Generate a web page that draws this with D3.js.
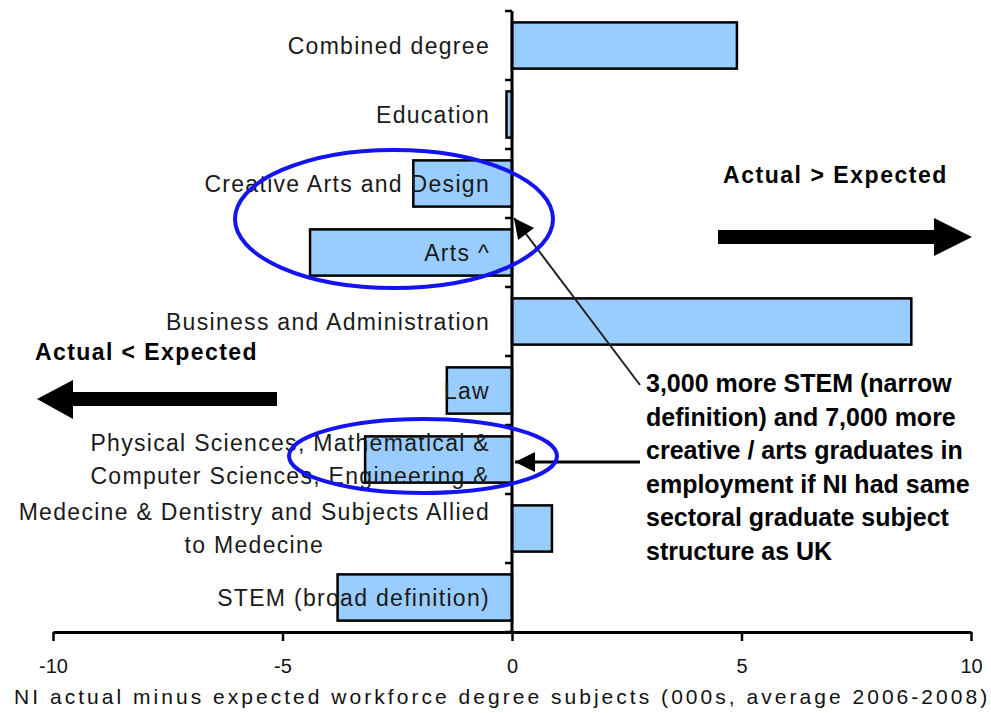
<!DOCTYPE html>
<html>
<head>
<meta charset="utf-8">
<script src="https://cdn.jsdelivr.net/npm/d3@7"></script>
<style>
  body { margin: 0; background: #fff; }
  svg { display: block; }
</style>
</head>
<body>
<div id="chart"></div>
<script>
// chart values (000s)
var categories = [
  "Combined degree",
  "Education",
  "Creative Arts and Design",
  "Arts ^",
  "Business and Administration",
  "Law",
  "Physical Sciences, Mathematical &\nComputer Sciences, Engineering &",
  "Medecine & Dentistry and Subjects Allied\nto Medecine",
  "STEM (broad definition)"
];
var values = [4.9, -0.12, -2.15, -4.4, 8.7, -1.42, -3.2, 0.87, -3.8];
var xTicks = [-10, -5, 0, 5, 10];
var xTitle = "NI actual minus expected workforce degree subjects (000s, average 2006-2008)";
var noteLines = [
  "3,000 more STEM (narrow",
  "definition) and 7,000 more",
  "creative / arts graduates in",
  "employment if NI had same",
  "sectoral graduate subject",
  "structure as UK"
];
var rightLabel = "Actual > Expected";
var leftLabel = "Actual < Expected";

var svgWidth = 991, svgHeight = 713;

var svg = d3.select("#chart").append("svg")
  .attr("width", svgWidth)
  .attr("height", svgHeight);

var xScale = d3.scaleLinear().domain([-10, 10]).range([53, 971]);
var yScale = d3.scaleBand().domain(categories).range([11, 632])
  .paddingInner(0.33).paddingOuter(0.165);

// stretch a text to a given width with letter spacing
function fit(sel, w) {
  sel.each(function() {
    var n = this.getNumberOfChars();
    var cur = this.getComputedTextLength();
    d3.select(this).attr("letter-spacing", ((w - cur) / n).toFixed(2));
  });
}

// bars
svg.append("g").selectAll("rect")
  .data(values)
  .enter()
  .append("rect")
  .attr("x", d => xScale(Math.min(0, d)))
  .attr("y", (d, i) => yScale(categories[i]))
  .attr("width", d => Math.abs(xScale(d) - xScale(0)))
  .attr("height", yScale.bandwidth())
  .attr("fill", "#99ccff")
  .attr("stroke", "#000")
  .attr("stroke-width", 2.5);

// x axis
var xAxis = d3.axisBottom(xScale).tickValues(xTicks).tickSize(9).tickSizeOuter(0);
var gx = svg.append("g")
  .attr("transform", "translate(0,632)")
  .call(xAxis);
gx.select(".domain").attr("stroke-width", 3);
gx.selectAll(".tick line").attr("stroke-width", 2.5);
gx.selectAll(".tick text")
  .attr("y", 27)
  .attr("font-family", "Liberation Sans, Arial, sans-serif")
  .attr("font-size", 20)
  .attr("fill", "#111")
  .text(d => d < 0 ? "-" + Math.abs(d) : d);

// zero line with category ticks
var x0 = xScale(0);
svg.append("line")
  .attr("x1", x0).attr("x2", x0)
  .attr("y1", 11).attr("y2", 632)
  .attr("stroke", "#000").attr("stroke-width", 3);

var step = yScale.step();
var bounds = d3.range(categories.length + 1).map(i => 11 + i * step);
svg.append("g").selectAll("line")
  .data(bounds)
  .enter()
  .append("line")
  .attr("x1", x0 - 7).attr("x2", x0)
  .attr("y1", d => d).attr("y2", d => d)
  .attr("stroke", "#000").attr("stroke-width", 2.5);

// category labels
var labelX = 490;
var labels = svg.append("g")
  .attr("font-family", "Liberation Sans, Arial, sans-serif")
  .attr("font-size", 23)
  .attr("fill", "#1a1a1a");

categories.forEach(function(c) {
  var lines = c.split("\n");
  var cy = yScale(c) + yScale.bandwidth() / 2;
  var lh = 33;
  var t = labels.append("text")
    .attr("y", cy - (lines.length - 1) * lh / 2 + 8)
    .attr("letter-spacing", 1.3);
  t.selectAll("tspan")
    .data(lines)
    .enter()
    .append("tspan")
    .attr("dy", (d, i) => i === 0 ? 0 : lh)
    .text(d => d);
  // centre the lines in a block that ends at labelX
  var widths = [];
  t.selectAll("tspan").each(function() { widths.push(this.getComputedTextLength()); });
  var maxW = d3.max(widths);
  t.attr("text-anchor", "middle")
    .selectAll("tspan")
    .attr("x", labelX - maxW / 2);
});

// x axis title
svg.append("text")
  .attr("x", 14)
  .attr("y", 704)
  .attr("font-family", "Liberation Sans, Arial, sans-serif")
  .attr("font-size", 21)
  .attr("fill", "#111")
  .text(xTitle)
  .call(fit, 976);

// direction labels and arrows
var bold = svg.append("g")
  .attr("font-family", "Liberation Sans, Arial, sans-serif")
  .attr("font-weight", "bold")
  .attr("font-size", 23)
  .attr("fill", "#000");

bold.append("text").attr("x", 723).attr("y", 183).text(rightLabel).call(fit, 225);
bold.append("text").attr("x", 35).attr("y", 360).text(leftLabel).call(fit, 223);

svg.append("path")
  .attr("d", "M718,230 H934 V218 L972,237 L934,256 V244 H718 Z")
  .attr("fill", "#000");
svg.append("path")
  .attr("d", "M277,392 H73 V380 L37,399 L73,419 V406 H277 Z")
  .attr("fill", "#000");

// annotation
var note = bold.append("text")
  .attr("font-size", 25);
note.selectAll("tspan")
  .data(noteLines)
  .enter()
  .append("tspan")
  .attr("x", 646)
  .attr("y", (d, i) => 392 + i * 33.6)
  .text(d => d);

// pointers
svg.append("defs").append("marker")
  .attr("id", "head")
  .attr("viewBox", "0 0 10 10")
  .attr("refX", 10).attr("refY", 5)
  .attr("markerWidth", 22).attr("markerHeight", 20)
  .attr("markerUnits", "userSpaceOnUse")
  .attr("orient", "auto")
  .append("path")
  .attr("d", "M0,0 L10,5 L0,10 Z")
  .attr("fill", "#000");

svg.append("line")
  .attr("x1", 640).attr("y1", 385)
  .attr("x2", 514).attr("y2", 218)
  .attr("stroke", "#222").attr("stroke-width", 2)
  .attr("marker-end", "url(#head)");
svg.append("line")
  .attr("x1", 640).attr("y1", 462)
  .attr("x2", 515).attr("y2", 462)
  .attr("stroke", "#000").attr("stroke-width", 3)
  .attr("marker-end", "url(#head)");

// highlight ellipses
svg.append("ellipse")
  .attr("cx", 394).attr("cy", 219).attr("rx", 159).attr("ry", 69)
  .attr("fill", "none").attr("stroke", "#1414f0").attr("stroke-width", 4);
svg.append("ellipse")
  .attr("cx", 423).attr("cy", 456).attr("rx", 134).attr("ry", 37)
  .attr("fill", "none").attr("stroke", "#1414f0").attr("stroke-width", 4);
</script>
</body>
</html>
